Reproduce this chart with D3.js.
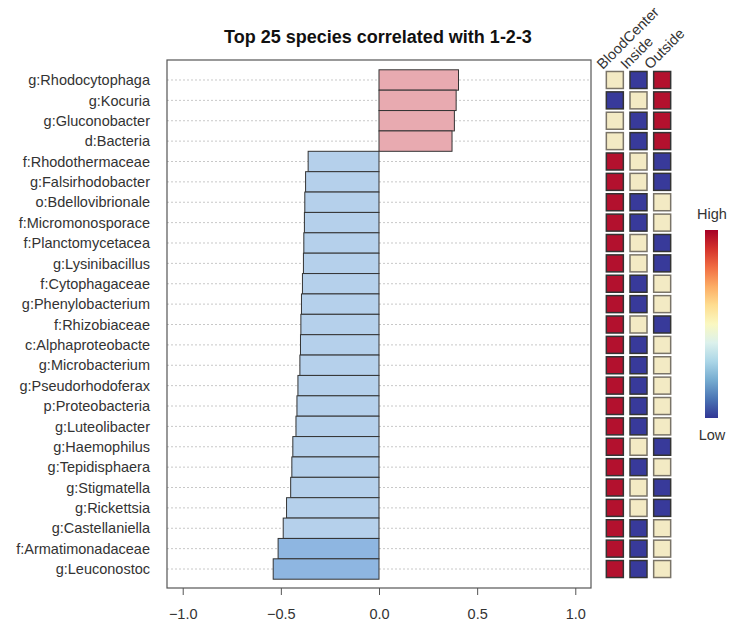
<!DOCTYPE html>
<html>
<head>
<meta charset="utf-8">
<script src="https://cdn.jsdelivr.net/npm/d3@7"></script>
<style>
  body { margin: 0; background: #fff; }
  text { font-family: "Liberation Sans", Arial, sans-serif; }
</style>
</head>
<body>
<div class="chart"></div>
<script>
const species = ["g:Rhodocytophaga","g:Kocuria","g:Gluconobacter","d:Bacteria","f:Rhodothermaceae",
  "g:Falsirhodobacter","o:Bdellovibrionale","f:Micromonosporace","f:Planctomycetacea","g:Lysinibacillus",
  "f:Cytophagaceae","g:Phenylobacterium","f:Rhizobiaceae","c:Alphaproteobacte","g:Microbacterium",
  "g:Pseudorhodoferax","p:Proteobacteria","g:Luteolibacter","g:Haemophilus","g:Tepidisphaera",
  "g:Stigmatella","g:Rickettsia","g:Castellaniella","f:Armatimonadaceae","g:Leuconostoc"];
const corr = [0.405, 0.393, 0.384, 0.372, -0.361, -0.374, -0.378, -0.380, -0.383, -0.385,
  -0.390, -0.395, -0.398, -0.400, -0.403, -0.413, -0.418, -0.423, -0.439, -0.444,
  -0.450, -0.471, -0.488, -0.514, -0.539];
// 1 = low, 2 = mid, 3 = high
const groups = ["BloodCenter", "Inside", "Outside"];
const bloodCenter = [2,1,2,2,3,3,3,3,3,3,3,3,3,3,3,3,3,3,3,3,3,3,3,3,3];
const inside      = [1,2,1,1,2,2,1,1,2,2,1,1,2,1,1,1,1,1,2,1,2,2,1,1,1];
const outside     = [3,3,3,3,1,1,2,2,1,1,2,2,1,2,2,2,2,2,1,2,1,1,2,2,2];
const xTicks = [-1.0, -0.5, 0.0, 0.5, 1.0];

const width = 729, height = 623;
const svg = d3.select('.chart').append('svg')
    .attr('width', width).attr('height', height);

const frame = {left: 167, right: 591, top: 60, bottom: 588};

const x = d3.scaleLinear().domain([-1.08, 1.08]).range([frame.left, frame.right]);
const y = d3.scaleBand().domain(species).range([69.8, 579.2]).padding(0);

// title
svg.append('text')
    .attr('x', 378).attr('y', 43)
    .attr('text-anchor', 'middle')
    .attr('font-size', 18).attr('font-weight', 'bold')
    .attr('fill', '#111')
    .text('Top 25 species correlated with 1-2-3');

// dotted grid
svg.append('g').selectAll('line')
    .data(species).enter().append('line')
    .attr('x1', frame.left).attr('x2', frame.right)
    .attr('y1', d => y(d) + y.bandwidth() / 2)
    .attr('y2', d => y(d) + y.bandwidth() / 2)
    .attr('stroke', '#c8c8c8').attr('stroke-dasharray', '2,2');

const barColor = v => v > 0 ? '#E8AAB0' : (v < -0.5 ? '#8EB6E1' : '#B5D0EB');

svg.append('g').selectAll('rect')
    .data(species).enter().append('rect')
    .attr('x', (d, i) => x(Math.min(0, corr[i])))
    .attr('y', d => y(d))
    .attr('width', (d, i) => Math.abs(x(corr[i]) - x(0)))
    .attr('height', y.bandwidth())
    .attr('fill', (d, i) => barColor(corr[i]))
    .attr('stroke', '#333').attr('stroke-width', 1);

// frame
svg.append('rect')
    .attr('x', frame.left).attr('y', frame.top)
    .attr('width', frame.right - frame.left).attr('height', frame.bottom - frame.top)
    .attr('fill', 'none').attr('stroke', '#555').attr('stroke-width', 1.2);

// row labels
svg.append('g').selectAll('text')
    .data(species).enter().append('text')
    .attr('x', 150)
    .attr('y', d => y(d) + y.bandwidth() / 2)
    .attr('dy', '0.36em')
    .attr('text-anchor', 'end')
    .attr('font-size', 14.5).attr('fill', '#333')
    .text(d => d);

// x axis
const xAxis = d3.axisBottom(x).tickValues(xTicks).tickFormat(d3.format('.1f')).tickSize(7).tickPadding(14);
const xg = svg.append('g')
    .attr('transform', `translate(0, ${frame.bottom})`)
    .call(xAxis);
xg.select('.domain').remove();
xg.selectAll('line').attr('stroke', '#555');
xg.selectAll('text').attr('font-size', 14.5).attr('fill', '#333')
    .attr('font-family', '"Liberation Sans", Arial, sans-serif');

// heatmap
const heatColor = d3.scaleOrdinal().domain([1, 2, 3]).range(['#383A9A', '#F3EAC4', '#B3112E']);
const cols = d3.scaleBand().domain(groups).range([603, 674]).padding(0);
const cellSize = 17;
const heatData = [bloodCenter, inside, outside];

groups.forEach((g, j) => {
  svg.append('g').selectAll('rect')
    .data(species).enter().append('rect')
    .attr('x', cols(g) + cols.bandwidth() / 2 - cellSize / 2)
    .attr('y', d => y(d) + y.bandwidth() / 2 - cellSize / 2)
    .attr('width', cellSize).attr('height', cellSize)
    .attr('fill', (d, i) => heatColor(heatData[j][i]))
    .attr('stroke', (d, i) => heatData[j][i] === 2 ? '#7a7468' : '#333')
    .attr('stroke-width', 1.5);

  svg.append('text')
    .attr('transform', `translate(${cols(g) + cols.bandwidth() / 2 - 12}, 70) rotate(-45)`)
    .attr('font-size', 14.5).attr('fill', '#333')
    .text(g);
});

// colour legend
const defs = svg.append('defs');
const grad = defs.append('linearGradient').attr('id', 'legendGrad')
    .attr('x1', 0).attr('x2', 0).attr('y1', 0).attr('y2', 1);
d3.range(0, 1.001, 0.1).forEach(t => {
  grad.append('stop').attr('offset', t).attr('stop-color', d3.interpolateRdYlBu(t));
});
svg.append('rect')
    .attr('x', 705).attr('y', 230).attr('width', 13).attr('height', 188)
    .attr('fill', 'url(#legendGrad)');
svg.append('text').attr('x', 712).attr('y', 219).attr('text-anchor', 'middle')
    .attr('font-size', 14.5).attr('fill', '#333').text('High');
svg.append('text').attr('x', 712).attr('y', 440).attr('text-anchor', 'middle')
    .attr('font-size', 14.5).attr('fill', '#333').text('Low');
</script>
</body>
</html>
